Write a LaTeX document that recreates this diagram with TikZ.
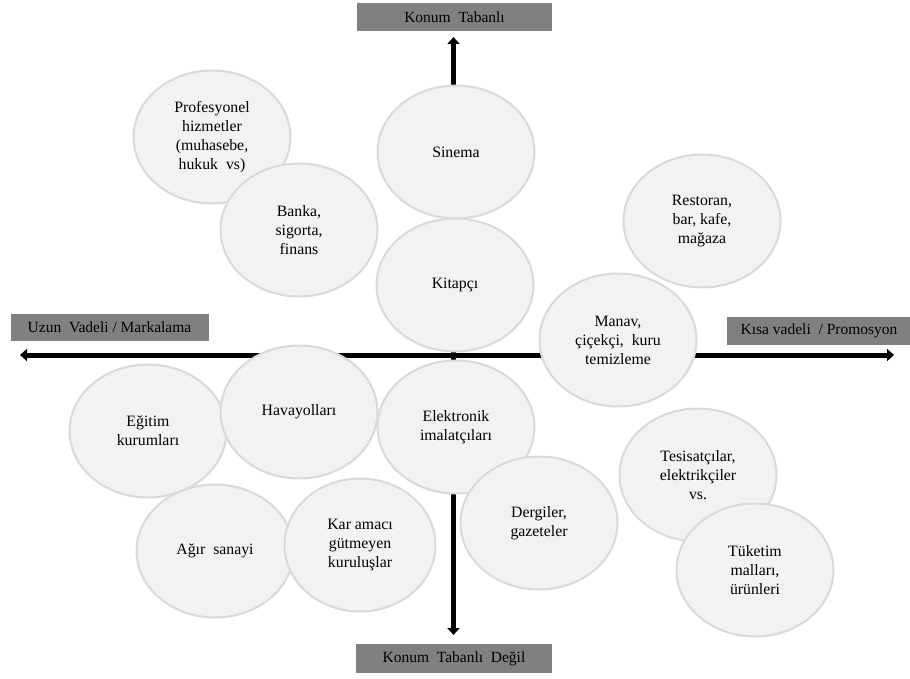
\documentclass[tikz,border=0pt]{standalone}
\usepackage{fontspec}
\setmainfont{Liberation Serif}
\usetikzlibrary{shapes.geometric,arrows.meta}
\definecolor{bubblefill}{HTML}{F2F2F2}
\definecolor{bubbleline}{HTML}{D9D9D9}
\definecolor{labelgray}{HTML}{808080}
\begin{document}
\begin{tikzpicture}[x=1pt,y=-1pt,
  bubble/.style={ellipse, draw=bubbleline, line width=2pt, fill=bubblefill,
    inner sep=0pt, minimum width=157pt, minimum height=133pt, align=center,
    font=\fontsize{15.8}{19}\selectfont},
  axislabel/.style={rectangle, fill=labelgray, inner sep=0pt,
    font=\fontsize{15.5}{17}\selectfont},
  axisline/.style={line width=5pt,
    {Triangle[width=12pt,length=7pt]}-{Triangle[width=12pt,length=7pt]}}]
\useasboundingbox (0,0) rectangle (910,679);

% axis labels
\node[axislabel, minimum width=195pt, minimum height=28pt] (toplab) at (454.5,17) {Konum\ \ Tabanlı};
\node[axislabel, minimum width=196pt, minimum height=29pt] (botlab) at (454,658.5) {Konum\ \ Tabanlı\ \ Değil};
\node[axislabel, minimum width=198pt, minimum height=27pt] (leftlab) at (109.5,327.5) {Uzun\ \ Vadeli / Markalama};
\node[axislabel, minimum width=184pt, minimum height=28pt] (rightlab) at (819,331) {Kısa vadeli\ \ / Promosyon};

% axes
\coordinate (west) at (20,355);
\coordinate (east) at (894,355);
\coordinate (north) at (453.5,37);
\coordinate (south) at (453.5,635);
\draw[axisline] (west) -- (east);
\draw[axisline] (south) -- (north);

% bubbles
\node[bubble] (prof) at (212,137) {Profesyonel\\hizmetler\\(muhasebe,\\hukuk\ \ vs)};
\node[bubble] (banka) at (299,230) {Banka,\\sigorta,\\finans};
\node[bubble] (sinema) at (456,152) {Sinema};
\node[bubble] (kitap) at (455,285) {Kitapçı};
\node[bubble] (rest) at (702,221) {Restoran,\\bar, kafe,\\mağaza};
\node[bubble] (manav) at (618,340) {Manav,\\çiçekçi,\ \ kuru\\temizleme};
\node[bubble] (egitim) at (148,431) {Eğitim\\kurumları};
\node[bubble] (hava) at (299,412) {Havayolları};
\node[bubble] (elek) at (456,427) {Elektronik\\imalatçıları};
\node[bubble] (agir) at (215,551) {Ağır\ \ sanayi};
\node[bubble, minimum width=151pt] (kar) at (360,545) {Kar amacı\\gütmeyen\\kuruluşlar};
\node[bubble] (dergi) at (539,523) {Dergiler,\\gazeteler};
\node[bubble] (tesis) at (698,475) {Tesisatçılar,\\elektrikçiler\\vs.};
\node[bubble] (tuket) at (755,570) {Tüketim\\malları,\\ürünleri};
\end{tikzpicture}
\end{document}
